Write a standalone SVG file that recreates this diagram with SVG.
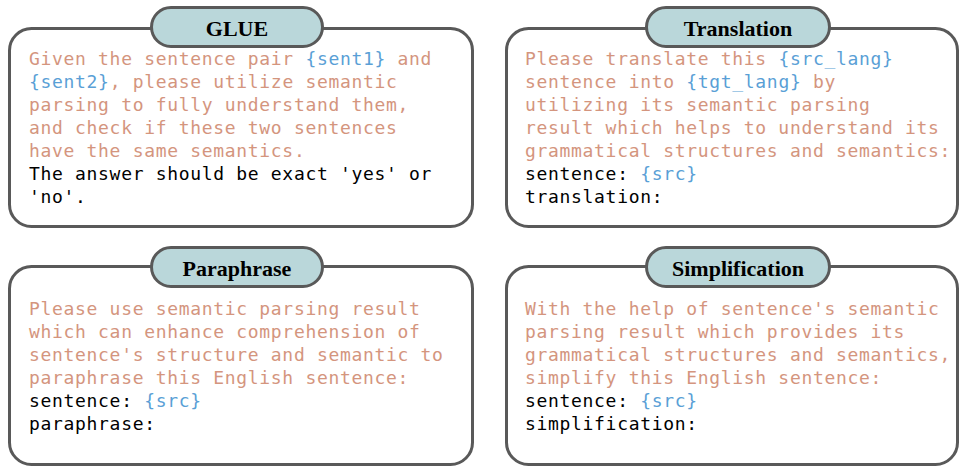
<svg xmlns="http://www.w3.org/2000/svg" width="960" height="466" viewBox="0 0 960 466">
<style>
.box{fill:#fff;stroke:#595959;stroke-width:3}
.pill{fill:#bad7da;stroke:#595959;stroke-width:3}
.title{font-family:"Liberation Serif","Times New Roman",serif;font-weight:bold;font-size:22px;fill:#000;text-anchor:middle}
.t{font-family:"DejaVu Sans Mono",monospace;font-size:18px;letter-spacing:0.68px;fill:#000}
.o{fill:#d4957e}
.b{fill:#5a9fd6}
</style>
<rect width="960" height="466" fill="#fff"/>
<g id="glue">
<rect class="box" x="9.5" y="28.5" width="463" height="198" rx="22"/>
<rect class="pill" x="151.5" y="7.5" width="171" height="39" rx="19.5"/>
<text class="title" x="237" y="36">GLUE</text>
<text class="t" x="29" y="65"><tspan class="o">Given the sentence pair </tspan><tspan class="b">{sent1}</tspan><tspan class="o"> and</tspan></text>
<text class="t" x="29" y="88"><tspan class="b">{sent2}</tspan><tspan class="o">, please utilize semantic</tspan></text>
<text class="t o" x="29" y="111">parsing to fully understand them,</text>
<text class="t o" x="29" y="134">and check if these two sentences</text>
<text class="t o" x="29" y="157">have the same semantics.</text>
<text class="t" x="29" y="180">The answer should be exact 'yes' or</text>
<text class="t" x="29" y="203">'no'.</text>
</g>
<g id="translation">
<rect class="box" x="506.5" y="28.5" width="451" height="198" rx="22"/>
<rect class="pill" x="646.5" y="7.5" width="183" height="39" rx="19.5"/>
<text class="title" x="738" y="36">Translation</text>
<text class="t" x="525" y="65"><tspan class="o">Please translate this </tspan><tspan class="b">{src_lang}</tspan></text>
<text class="t" x="525" y="88"><tspan class="o">sentence into </tspan><tspan class="b">{tgt_lang}</tspan><tspan class="o"> by</tspan></text>
<text class="t o" x="525" y="111">utilizing its semantic parsing</text>
<text class="t o" x="525" y="134">result which helps to understand its</text>
<text class="t o" x="525" y="157">grammatical structures and semantics:</text>
<text class="t" x="525" y="180">sentence: <tspan class="b">{src}</tspan></text>
<text class="t" x="525" y="203">translation:</text>
</g>
<g id="paraphrase">
<rect class="box" x="9.5" y="266.5" width="463" height="198" rx="22"/>
<rect class="pill" x="151.5" y="247.5" width="171" height="39" rx="19.5"/>
<text class="title" x="237" y="276">Paraphrase</text>
<text class="t o" x="29" y="315">Please use semantic parsing result</text>
<text class="t o" x="29" y="338">which can enhance comprehension of</text>
<text class="t o" x="29" y="361">sentence's structure and semantic to</text>
<text class="t o" x="29" y="384">paraphrase this English sentence:</text>
<text class="t" x="29" y="407">sentence: <tspan class="b">{src}</tspan></text>
<text class="t" x="29" y="430">paraphrase:</text>
</g>
<g id="simplification">
<rect class="box" x="506.5" y="266.5" width="451" height="198" rx="22"/>
<rect class="pill" x="646.5" y="247.5" width="183" height="39" rx="19.5"/>
<text class="title" x="738" y="276">Simplification</text>
<text class="t o" x="525" y="315">With the help of sentence's semantic</text>
<text class="t o" x="525" y="338">parsing result which provides its</text>
<text class="t o" x="525" y="361">grammatical structures and semantics,</text>
<text class="t o" x="525" y="384">simplify this English sentence:</text>
<text class="t" x="525" y="407">sentence: <tspan class="b">{src}</tspan></text>
<text class="t" x="525" y="430">simplification:</text>
</g>
<g id="connectors"/>
</svg>
